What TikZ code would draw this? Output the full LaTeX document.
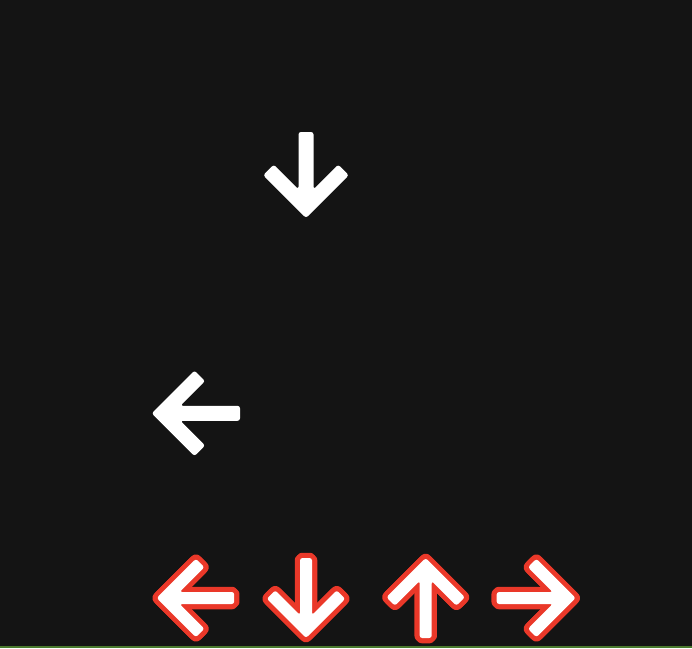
\documentclass[tikz,border=0pt]{standalone}
\definecolor{bg}{RGB}{20,20,20}
\definecolor{arrred}{RGB}{234,56,41}
\definecolor{grn}{RGB}{74,122,46}
% arrow outline pointing right, tip (centerline) at origin: #1 half width, #2 shaft length, #3 arm length
\newcommand\glyphpath[3]{({(#1)*1.41421},0) -- ({-(#3)+(#1)*0.70711},{(#3)+(#1)*0.70711}) -- ({-(#3)-(#1)*0.70711},{(#3)-(#1)*0.70711}) -- ({-(#1)*2.41421},{#1}) -- ({-(#2)},{#1}) -- ({-(#2)},{-(#1)}) -- ({-(#1)*2.41421},{-(#1)}) -- ({-(#3)-(#1)*0.70711},{-(#3)+(#1)*0.70711}) -- ({-(#3)+(#1)*0.70711},{-(#3)-(#1)*0.70711}) -- cycle}
\tikzset{
  whiteglyph/.style={fill=white, rounded corners=2.5pt},
  redrim/.style={draw=arrred, line width=7.5pt, line join=round, rounded corners=2pt},
}
% #1 x, #2 y, #3 rotation, #4 h, #5 L, #6 d
\newcommand\plainglyph[6]{%
  \begin{scope}[shift={(#1,#2)}, rotate=#3]
    \path[whiteglyph] \glyphpath{#4}{#5}{#6};
  \end{scope}}
\newcommand\rimglyph[6]{%
  \begin{scope}[shift={(#1,#2)}, rotate=#3]
    \path[redrim, xshift=-1.5pt] \glyphpath{#4}{#5}{#6};
    \path[redrim, xshift=1.5pt] \glyphpath{#4}{#5}{#6};
    \path[redrim, yshift=-1.5pt] \glyphpath{#4}{#5}{#6};
    \path[redrim, yshift=1.5pt] \glyphpath{#4}{#5}{#6};
    \path[whiteglyph] \glyphpath{#4}{#5}{#6};
  \end{scope}}
\begin{document}
\begin{tikzpicture}[x=1pt,y=-1pt]
\fill[bg] (0,0) rectangle (692,648);
\useasboundingbox (0,0) rectangle (692,648);
\fill[grn] (0,646) rectangle (692,648);
% falling arrows
\plainglyph{306}{207.4}{-90}{7.5}{75.4}{37.5}
\plainglyph{162.3}{413.3}{180}{7.5}{77.7}{37.5}
% receptor row
\rimglyph{165.2}{598}{180}{6}{69}{35}
\rimglyph{306}{629.5}{-90}{6}{71.5}{35}
\rimglyph{425.7}{566.5}{90}{6}{71.5}{35}
\rimglyph{567.2}{598}{0}{6}{70.5}{35}
\end{tikzpicture}
\end{document}
